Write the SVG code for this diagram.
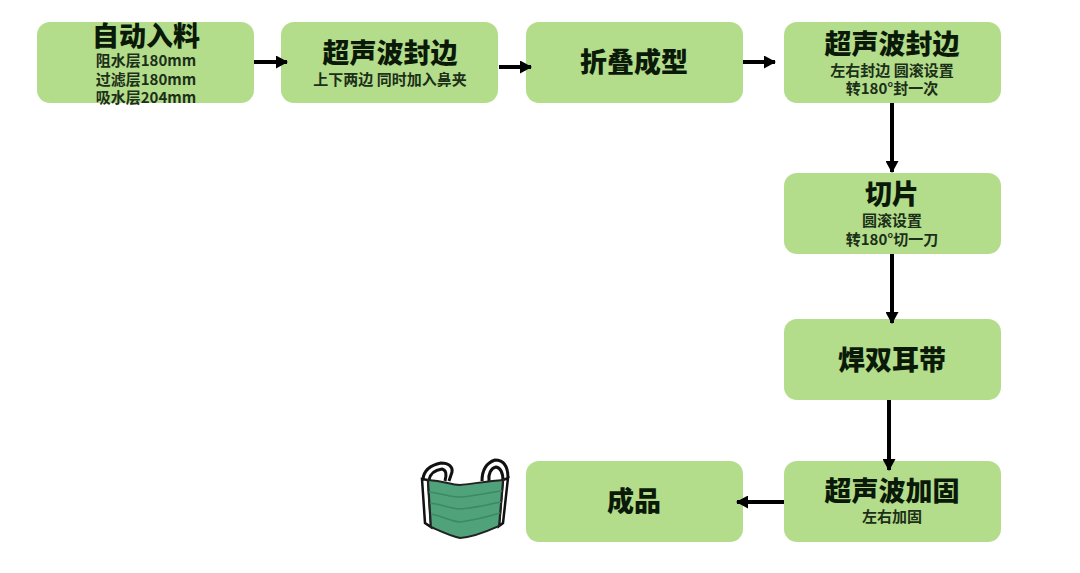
<svg xmlns="http://www.w3.org/2000/svg" width="1080" height="573" viewBox="0 0 1080 573">
<style>
.n{fill:#b3dd8b}
text{font-family:"Noto Sans CJK SC","Noto Sans",sans-serif;font-weight:900;fill:#0b1a08;text-anchor:middle}
.t{font-size:27px}
.s{font-size:15px;font-weight:700;fill:#1c2f18}
.c{stroke:#000;stroke-width:4;fill:none;marker-end:url(#a)}
.o{fill:none;stroke:#111;stroke-width:3}
.l{fill:none;stroke:#3b8a64;stroke-width:1.500}
</style>
<defs><marker id="a" markerUnits="userSpaceOnUse" markerWidth="12" markerHeight="13" refX="11" refY="6.500" orient="auto"><path d="M0 0L12 6.500L0 13Z" fill="#000"/></marker></defs>
<rect width="1080" height="573" fill="#fff"/>
<g id="n1"><rect class="n" x="37" y="22" width="217" height="81" rx="13"/><text class="t" x="146" y="46">自动入料</text><text class="s" x="146" y="66">阻水层180mm</text><text class="s" x="146" y="85">过滤层180mm</text><text class="s" x="146" y="103">吸水层204mm</text></g>
<g id="n2"><rect class="n" x="281" y="22" width="217" height="81" rx="13"/><text class="t" x="390" y="63">超声波封边</text><text class="s" x="390" y="85">上下两边 同时加入鼻夹</text></g>
<g id="n3"><rect class="n" x="526" y="22" width="217" height="81" rx="13"/><text class="t" x="634" y="72">折叠成型</text></g>
<g id="n4"><rect class="n" x="784" y="22" width="217" height="81" rx="13"/><text class="t" x="892" y="54">超声波封边</text><text class="s" x="892" y="76">左右封边 圆滚设置</text><text class="s" x="892" y="94">转180°封一次</text></g>
<g id="n5"><rect class="n" x="784" y="173" width="217" height="81" rx="13"/><text class="t" x="892" y="204">切片</text><text class="s" x="892" y="226">圆滚设置</text><text class="s" x="892" y="245">转180°切一刀</text></g>
<g id="n6"><rect class="n" x="784" y="319" width="217" height="81" rx="13"/><text class="t" x="892" y="370">焊双耳带</text></g>
<g id="n7"><rect class="n" x="784" y="461" width="217" height="81" rx="13"/><text class="t" x="892" y="501">超声波加固</text><text class="s" x="892" y="522">左右加固</text></g>
<g id="n8"><rect class="n" x="526" y="461" width="217" height="81" rx="13"/><text class="t" x="634" y="511">成品</text></g>
<g id="connectors">
<path class="c" d="M254 62H287"/>
<path class="c" d="M499 67H531"/>
<path class="c" d="M743 62H775"/>
<path class="c" d="M892 103V172"/>
<path class="c" d="M892 254V323"/>
<path class="c" d="M889 400V470"/>
<path class="c" d="M784 502H737"/>
</g>
<g id="mask">
<path class="o" d="M423 479C424 470 431 465 441 463C449 463 453 467 452 472L449 481"/>
<path class="o" d="M429 480C430 474 435 470 442 469C446 470 447 474 445 481"/>
<path class="o" d="M482 481C482 470 486 463 495 460C504 460 508 467 508 478"/>
<path class="o" d="M489 481C488 474 491 468 496 467C501 468 503 473 503 481"/>
<path d="M422 479L425 523L431 527L428 480ZM503 480L499 526L503 523L508 478Z" fill="#fff" stroke="#111" stroke-width="2.500"/>
<path d="M428 480C445 481 450 485 460 485C470 484 490 481 503 480L499 526C490 530 475 537 460 538C450 536 440 531 431 527Z" fill="#4fa27a" stroke="#222" stroke-width="2"/>
<path class="l" d="M429 492C445 494 450 497 460 497C475 496 490 492 502 491"/>
<path class="l" d="M430 503C445 505 450 509 460 509C475 508 490 504 501 502"/>
<path class="l" d="M431 514C445 517 450 521 460 522C475 520 490 516 500 513"/>
</g>
</svg>
